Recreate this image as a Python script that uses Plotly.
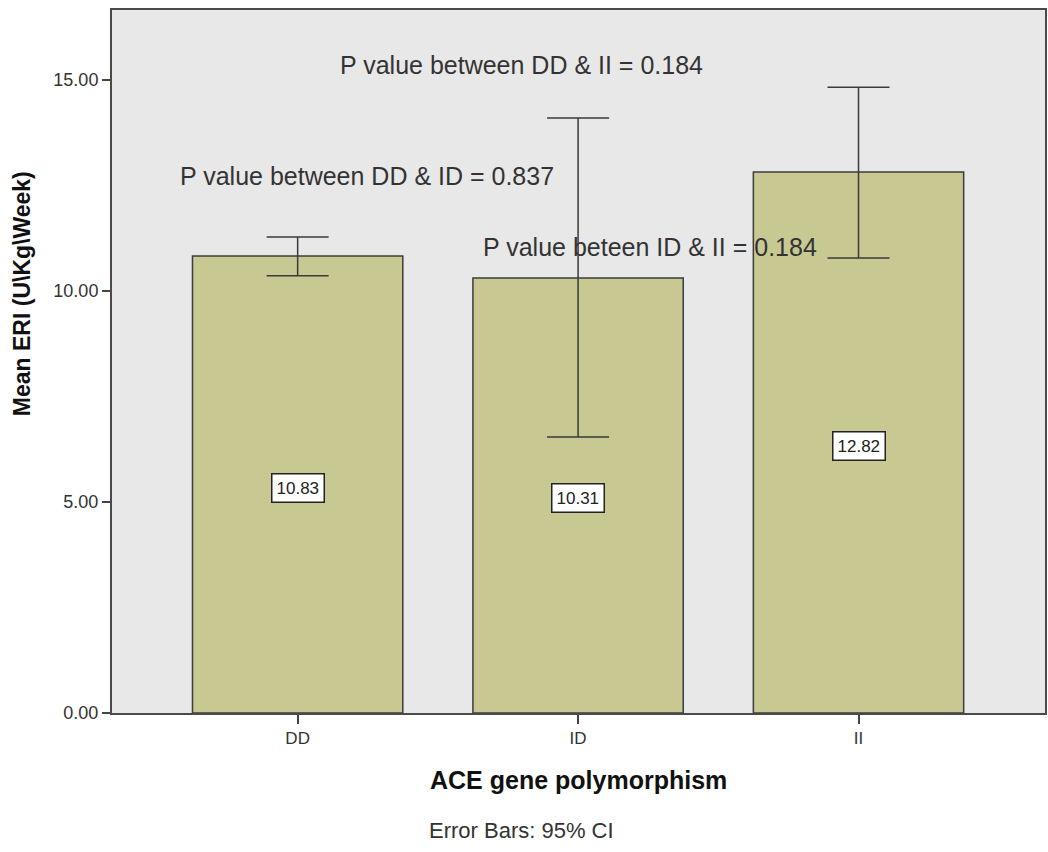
import plotly.graph_objects as go

categories = ["DD", "ID", "II"]
means = [10.83, 10.31, 12.82]
ci_upper = [11.28, 14.10, 14.83]
ci_lower = [10.36, 6.54, 10.78]
y_ticks = [0, 5, 10, 15]
y_tick_labels = ["0.00", "5.00", "10.00", "15.00"]
p_texts = [
    "P value between DD & II = 0.184",
    "P value between DD & ID = 0.837",
    "P value beteen ID & II = 0.184",
]
p_pos_x = [0.80, 0.246, 1.257]
p_pos_y = [15.36, 12.72, 11.04]

err_plus = [u - m for u, m in zip(ci_upper, means)]
err_minus = [m - l for m, l in zip(means, ci_lower)]

FONT = "Liberation Sans, Arial"

fig = go.Figure()
fig.add_trace(go.Bar(
    x=categories, y=means, width=0.75,
    marker=dict(color="#c8c892", line=dict(color="#3c3c3c", width=1.5)),
    error_y=dict(type="data", symmetric=False, array=err_plus, arrayminus=err_minus,
                 color="#3a3a3a", thickness=1.5, width=31),
    hoverinfo="skip",
))

annotations = []
for c, m in zip(categories, means):
    annotations.append(dict(
        x=c, y=m / 2, xref="x", yref="y", text=f"{m:.2f}", showarrow=False, yshift=-3,
        font=dict(family=FONT, size=17, color="#222"),
        bgcolor="white", bordercolor="#222", borderwidth=1.5, borderpad=4,
    ))
for t, px, py in zip(p_texts, p_pos_x, p_pos_y):
    annotations.append(dict(
        x=px, y=py, xref="x", yref="y", text=t, showarrow=False,
        font=dict(family=FONT, size=25, color="#333"),
    ))
annotations.append(dict(
    x=(522 - 112) / 935, y=-(830 - 713) / 703, xref="paper", yref="paper",
    xanchor="center", yanchor="middle",
    text="Error Bars: 95% CI", showarrow=False,
    font=dict(family=FONT, size=22, color="#333"),
))
annotations.append(dict(
    x=(579 - 112) / 935, y=-(780 - 713) / 703, xref="paper", yref="paper",
    xanchor="center", yanchor="middle",
    text="<b>ACE gene polymorphism</b>", showarrow=False,
    font=dict(family=FONT, size=25, color="#111"),
))
annotations.append(dict(
    x=(22 - 112) / 935, y=(713 - 294) / 703, xref="paper", yref="paper",
    xanchor="center", yanchor="middle",
    text="<b>Mean ERI (U\\Kg\\Week)</b>", showarrow=False, textangle=-90,
    font=dict(family=FONT, size=23, color="#111"),
))

fig.update_layout(
    width=1048, height=852,
    margin=dict(l=112, r=1, t=10, b=139),
    paper_bgcolor="white", plot_bgcolor="#e8e8e8",
    showlegend=False,
    annotations=annotations,
    xaxis=dict(
        type="category", range=[-0.662, 2.665],
        showline=True, linecolor="#4a4a4a", linewidth=2, mirror=True,
        ticks="outside", ticklen=9, tickcolor="#444", tickwidth=2,
        tickfont=dict(family=FONT, size=17, color="#333"),
        showgrid=False,
    ),
    yaxis=dict(
        range=[0, 16.66], tickvals=y_ticks, ticktext=y_tick_labels,
        showline=True, linecolor="#4a4a4a", linewidth=2, mirror=True,
        ticks="outside", ticklen=8, tickcolor="#444", tickwidth=2,
        tickfont=dict(family=FONT, size=18, color="#333"),
        showgrid=False, zeroline=False,
    ),
)

fig.write_html("out.html")
